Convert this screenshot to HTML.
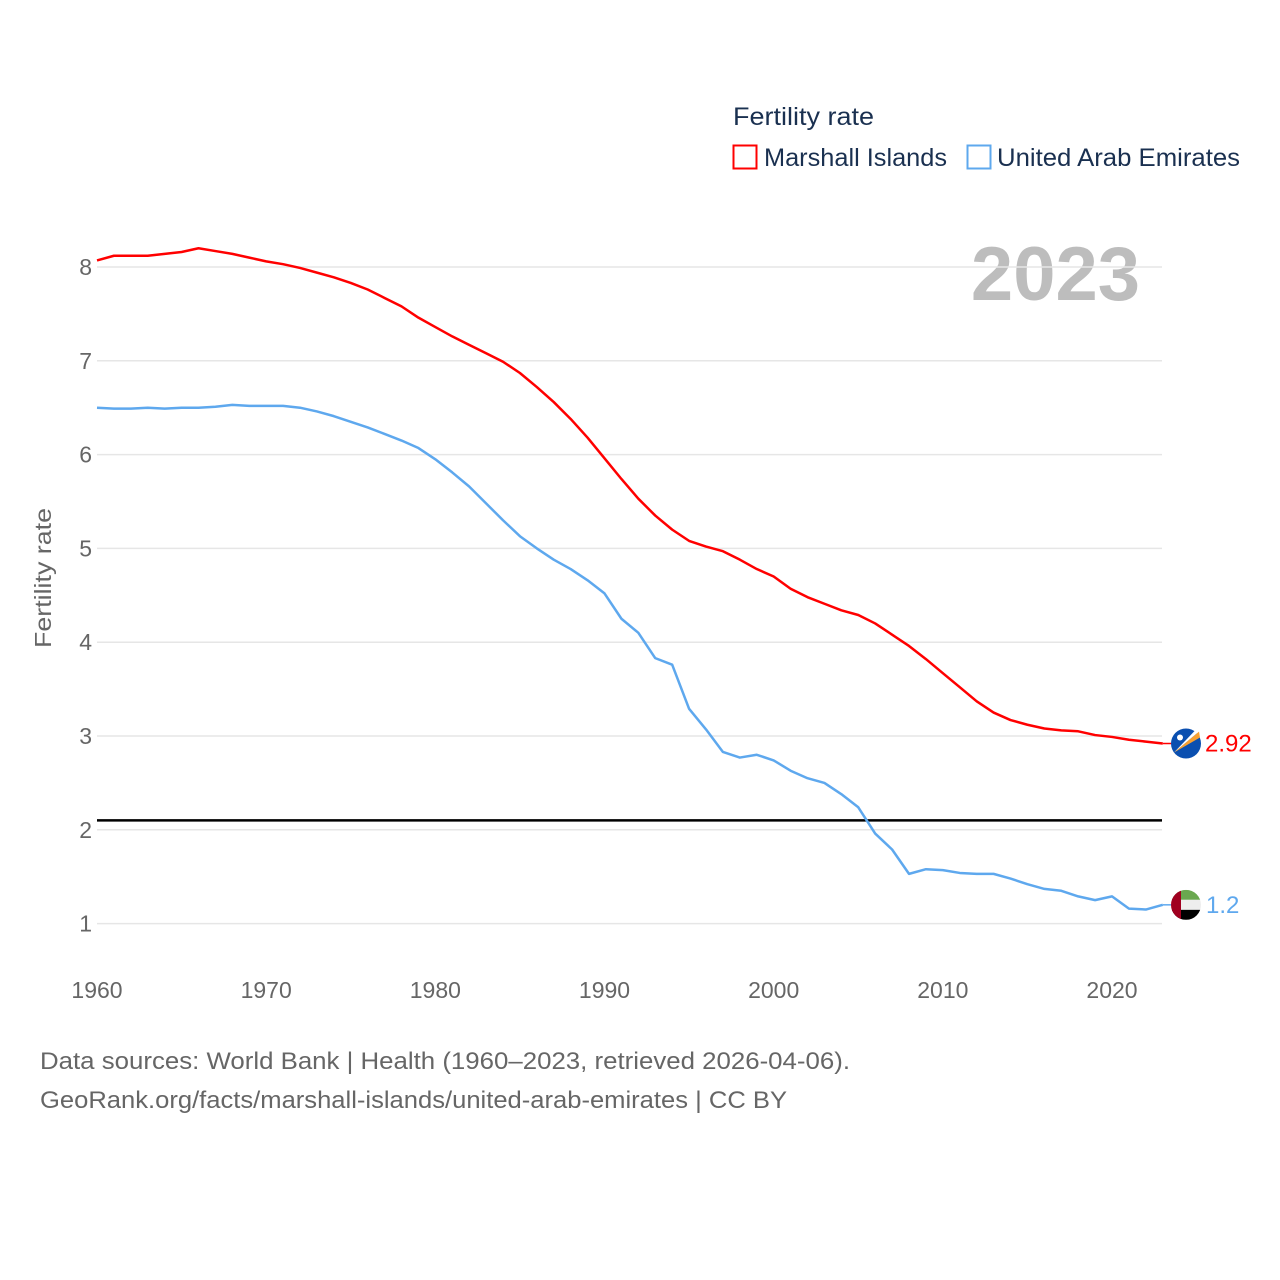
<!DOCTYPE html>
<html><head><meta charset="utf-8"><style>
body{margin:0;background:#fff}
svg{display:block;font-family:"Liberation Sans",sans-serif}
</style></head><body>
<svg id="chart" width="1280" height="1280" viewBox="0 0 1280 1280">
<rect width="1280" height="1280" fill="#fff"/>
<text x="733" y="125" font-size="25" fill="#1a3050" textLength="141" lengthAdjust="spacingAndGlyphs">Fertility rate</text>
<g>
<rect x="733.5" y="145.5" width="23" height="23" fill="none" stroke="#f00" stroke-width="2"/>
<text x="764" y="166" font-size="25" fill="#1a3050" textLength="183" lengthAdjust="spacingAndGlyphs">Marshall Islands</text></g>
<g>
<rect x="967.5" y="145.5" width="23" height="23" fill="none" stroke="#5ea8ee" stroke-width="2"/>
<text x="997" y="166" font-size="25" fill="#1a3050" textLength="243" lengthAdjust="spacingAndGlyphs">United Arab Emirates</text></g>
<text x="1140" y="300" font-size="76" font-weight="bold" fill="#bdbdbd" text-anchor="end">2023</text>
<text transform="translate(51,578) rotate(-90)" font-size="23" fill="#666" text-anchor="middle" textLength="140" lengthAdjust="spacingAndGlyphs">Fertility rate</text>
<g id="grid"></g><g id="series"></g>
<text x="40" y="1069" font-size="24" fill="#666" textLength="810" lengthAdjust="spacingAndGlyphs">Data sources: World Bank | Health (1960–2023, retrieved 2026-04-06).</text>
<text x="40" y="1108" font-size="24" fill="#666" textLength="747" lengthAdjust="spacingAndGlyphs">GeoRank.org/facts/marshall-islands/united-arab-emirates | CC BY</text>
</svg>
<script>
const years = [];for(let y=1960;y<=2023;y++)years.push(y);
const marshall = [8.07,8.12,8.12,8.12,8.14,8.16,8.20,8.17,8.14,8.10,8.06,8.03,7.99,7.94,7.89,7.83,7.76,7.67,7.58,7.46,7.36,7.26,7.17,7.08,6.99,6.87,6.72,6.56,6.38,6.18,5.96,5.74,5.53,5.35,5.20,5.08,5.02,4.97,4.88,4.78,4.70,4.57,4.48,4.41,4.34,4.29,4.20,4.08,3.96,3.82,3.67,3.52,3.37,3.25,3.17,3.12,3.08,3.06,3.05,3.01,2.99,2.96,2.94,2.92];
const uae = [6.50,6.49,6.49,6.50,6.49,6.50,6.50,6.51,6.53,6.52,6.52,6.52,6.50,6.46,6.41,6.35,6.29,6.22,6.15,6.07,5.95,5.81,5.66,5.48,5.30,5.13,5.00,4.88,4.78,4.66,4.52,4.25,4.10,3.83,3.76,3.29,3.07,2.83,2.77,2.80,2.74,2.63,2.55,2.50,2.38,2.24,1.96,1.79,1.53,1.58,1.57,1.54,1.53,1.53,1.48,1.42,1.37,1.35,1.29,1.25,1.29,1.16,1.15,1.20];
const yTicks = [1,2,3,4,5,6,7,8];
const xTicks = [1960,1970,1980,1990,2000,2010,2020];
const replacementRate = 2.1;
const NS="http://www.w3.org/2000/svg";
const X=y=>97+(y-1960)*16.917;
const Y=v=>267+(8-v)*93.8;
function mk(tag,attrs,parent){const e=document.createElementNS(NS,tag);for(const k in attrs)e.setAttribute(k,attrs[k]);parent.appendChild(e);return e;}
const grid=document.getElementById('grid'), ser=document.getElementById('series');
yTicks.forEach(t=>{
  const l=mk('line',{x1:97,x2:1162,y1:Y(t),y2:Y(t),stroke:'#e6e6e6','stroke-width':1.5},grid);
  
  
  const tx=mk('text',{x:92,y:Y(t)+8,'font-size':23,fill:'#666','text-anchor':'end'},grid);tx.textContent=t;
  
  
});
xTicks.forEach(t=>{
  const tx=mk('text',{x:X(t),y:998,'font-size':23,fill:'#666','text-anchor':'middle'},grid);tx.textContent=t;
  
  
});
const rl=mk('line',{x1:97,x2:1162,y1:Y(replacementRate),y2:Y(replacementRate),stroke:'#000','stroke-width':2.5},grid);


function line(vals,color,name){
  const p=mk('polyline',{points:vals.map((v,i)=>X(years[i])+','+Y(v)).join(' '),fill:'none',stroke:color,'stroke-width':2.5,'stroke-linejoin':'round'},ser);
  
  
}
line(uae,'#5ea8ee','uae-line');
line(marshall,'#f00','marshall-islands-line');
const lm=marshall[marshall.length-1], lu=uae[uae.length-1];
const xe=X(2023);
const g1=mk('g',{},ser);


mk('line',{x1:xe,x2:1172,y1:Y(lm),y2:Y(lm),stroke:'#f00','stroke-width':1.5},g1);
mk('circle',{cx:1186,cy:Y(lm),r:15,fill:'#0a4fb0'},g1);
mk('path',{d:`M${1174},${Y(lm)+9} L${1199},${Y(lm)-12} L${1200},${Y(lm)-6} Z`,fill:'#f7a030'},g1);
mk('path',{d:`M${1174},${Y(lm)+9} L${1199},${Y(lm)-12} L${1196},${Y(lm)-14} Z`,fill:'#fff'},g1);
mk('circle',{cx:1180,cy:Y(lm)-6,r:3,fill:'#fff'},g1);
const t1=mk('text',{x:1205,y:Y(lm)+8,'font-size':24,fill:'#f00'},ser);t1.textContent=lm.toFixed(2);


const g2=mk('g',{},ser);


const cy=Y(lu);
mk('clipPath',{id:'cp'},g2);
mk('circle',{cx:1186,cy:cy,r:15},document.getElementById('cp'));
mk('line',{x1:xe,x2:1172,y1:cy,y2:cy,stroke:'#5ea8ee','stroke-width':1.5},g2);
const fg=mk('g',{'clip-path':'url(#cp)'},g2);
mk('rect',{x:1171,y:cy-15,width:30,height:10,fill:'#6aa84f'},fg);
mk('rect',{x:1171,y:cy-5,width:30,height:10,fill:'#eee'},fg);
mk('rect',{x:1171,y:cy+5,width:30,height:10,fill:'#000'},fg);
mk('rect',{x:1171,y:cy-15,width:10,height:30,fill:'#a00020'},fg);
const t2=mk('text',{x:1206,y:cy+8,'font-size':24,fill:'#5ea8ee'},ser);t2.textContent=String(lu);


</script>
</body></html>
